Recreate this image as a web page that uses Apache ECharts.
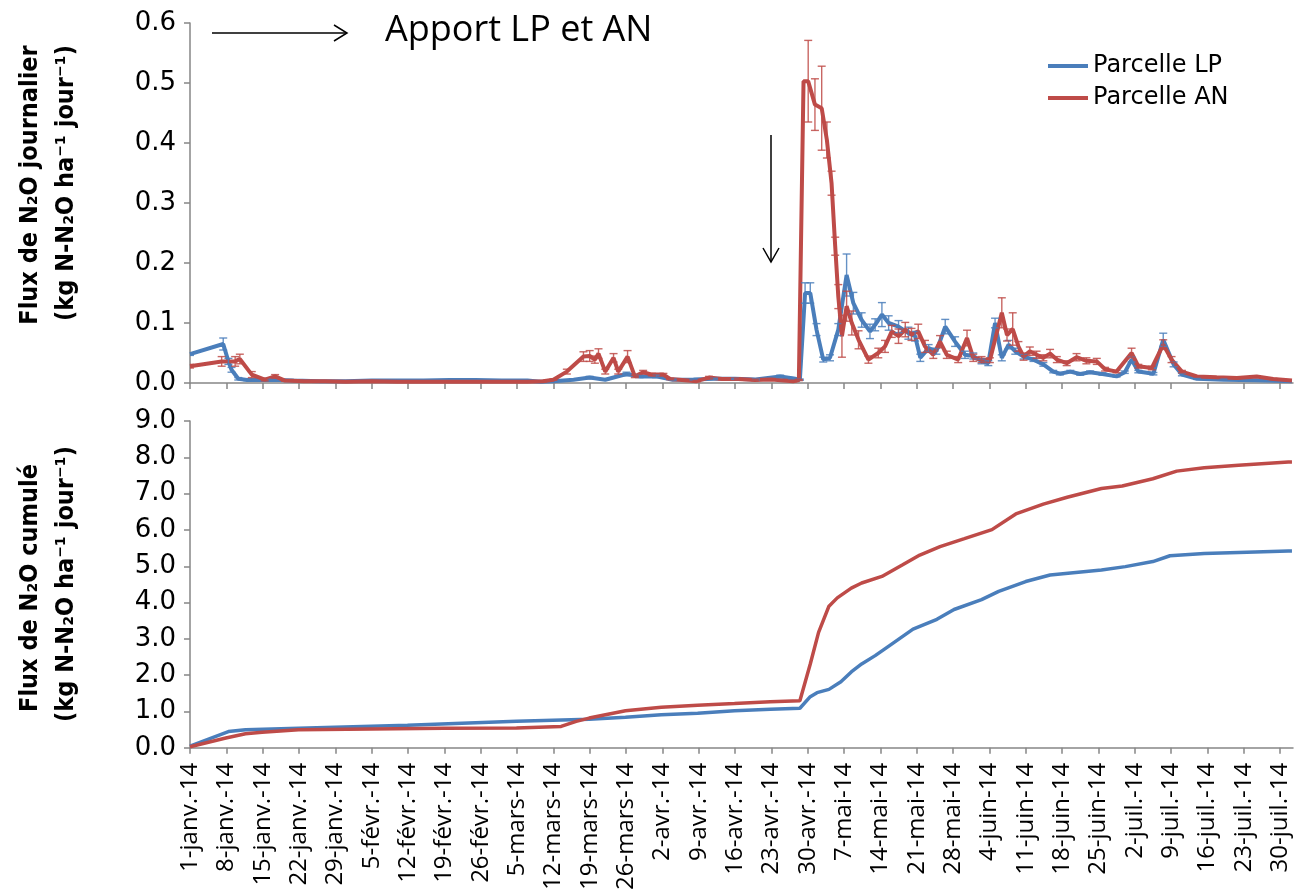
<!DOCTYPE html>
<html><head><meta charset="utf-8">
<script src="https://cdn.jsdelivr.net/npm/echarts@6/dist/echarts.min.js"></script>
<style>html,body{margin:0;padding:0;background:#fff}#c{width:1297px;height:893px}</style>
</head><body><div id="c"></div>
<script>
// ---- tick labels (every 7 days from 1 Jan 2014) ----
const tickLabels = ['1-janv.-14','8-janv.-14','15-janv.-14','22-janv.-14','29-janv.-14','5-févr.-14','12-févr.-14','19-févr.-14','26-févr.-14','5-mars-14','12-mars-14','19-mars-14','26-mars-14','2-avr.-14','9-avr.-14','16-avr.-14','23-avr.-14','30-avr.-14','7-mai-14','14-mai-14','21-mai-14','28-mai-14','4-juin-14','11-juin-14','18-juin-14','25-juin-14','2-juil.-14','9-juil.-14','16-juil.-14','23-juil.-14','30-juil.-14'];

// ---- daily flux, Parcelle LP (day since 1 Jan, kg N-N2O/ha/day, std error) ----
const lpDays = [0,6.4,7.4,8,9.3,11,15.7,20,25,30,35,40,45,50,55,60,65,67.5,70,73.9,77,80,84.1,86.6,89.8,93,97,101,105,109,113.7,116,117.5,118.5,119.5,120.7,122,123.3,124.9,126.5,127.8,129.4,131,132,133.3,134.6,136.5,138.4,139.7,140.7,142.3,143.8,145.5,147.4,149.3,150.9,152.5,153.8,155.1,156.4,157.7,159,160.6,162.5,164.4,166.3,167.6,169.6,171.5,173.4,175.8,178.5,180.1,181.4,182.7,185.6,187.5,189.5,191.1,194,199.1,205.5,212.3];
const lpFlux = [0.048,0.065,0.036,0.022,0.007,0.005,0.0055,0.004,0.003,0.003,0.004,0.004,0.004,0.005,0.005,0.004,0.004,0.002,0.003,0.0055,0.009,0.0055,0.015,0.011,0.011,0.0055,0.006,0.007,0.007,0.006,0.011,0.008,0.0055,0.15,0.15,0.089,0.039,0.042,0.089,0.18,0.133,0.105,0.086,0.097,0.114,0.1,0.094,0.083,0.078,0.042,0.058,0.053,0.094,0.069,0.047,0.045,0.036,0.033,0.1,0.042,0.064,0.053,0.044,0.039,0.031,0.019,0.0155,0.019,0.015,0.018,0.015,0.011,0.018,0.039,0.019,0.0155,0.072,0.031,0.014,0.007,0.0055,0.0044,0.003];
const lpErr = [0.002,0.01,0.005,0.004,0.002,0.001,0.001,0,0,0,0,0,0,0,0,0,0,0,0,0.001,0.002,0.001,0.003,0.002,0.002,0.001,0.001,0.001,0.001,0.001,0.002,0.001,0.001,0.017,0.017,0.01,0.004,0.005,0.01,0.035,0.018,0.012,0.012,0.01,0.02,0.012,0.01,0.01,0.008,0.006,0.006,0.005,0.012,0.008,0.006,0.005,0.004,0.004,0.008,0.005,0.007,0.005,0.004,0.003,0.003,0.002,0.002,0.002,0.002,0.002,0.002,0.001,0.002,0.004,0.002,0.002,0.011,0.004,0.002,0.001,0.001,0,0];

// ---- daily flux, Parcelle AN ----
const anDays = [0,6.1,8.7,9.6,11.9,14.4,16.4,18.3,22,26,30,35,40,45,50,55,60,65,68,70,72.6,75.8,77,78,78.7,80,81.6,82.5,84.3,85.7,87.3,89,91.2,92.5,97.6,100,102.5,105.6,108.8,112,116.2,117.3,118.2,119.1,120.4,121.7,122.7,123.6,124.3,124.9,125.6,126.5,127.5,128.8,130.7,132.6,133.9,135.2,136.5,137.8,139,140.3,141.6,143.2,144.5,145.8,148,149.7,150.9,152.5,154.1,156.4,157.4,158.5,159.6,160.6,161.8,163.1,164.4,165.7,167,168.9,170.8,172.7,174.7,176.3,178.5,181.4,182.7,185.3,187.5,189.1,191.1,194,197.8,201.7,205.5,208.7,212.3];
const anFlux = [0.028,0.036,0.036,0.04,0.014,0.0055,0.011,0.004,0.003,0.003,0.002,0.003,0.002,0.002,0.002,0.002,0.002,0.002,0.003,0.0055,0.019,0.044,0.045,0.039,0.049,0.019,0.042,0.019,0.044,0.011,0.018,0.014,0.014,0.0066,0.003,0.009,0.0065,0.0065,0.005,0.006,0.003,0.005,0.503,0.503,0.464,0.458,0.405,0.333,0.228,0.144,0.078,0.128,0.1,0.072,0.039,0.05,0.061,0.086,0.078,0.089,0.081,0.086,0.061,0.047,0.069,0.047,0.039,0.075,0.042,0.039,0.038,0.117,0.08,0.09,0.061,0.044,0.053,0.047,0.042,0.049,0.039,0.033,0.043,0.037,0.036,0.023,0.019,0.05,0.028,0.025,0.064,0.039,0.019,0.011,0.0094,0.0083,0.011,0.0066,0.004];
const anErr = [0.003,0.008,0.008,0.008,0.005,0.002,0.003,0.001,0,0,0,0,0,0,0,0,0,0,0.001,0.001,0.004,0.008,0.009,0.006,0.008,0.004,0.007,0.004,0.01,0.002,0.003,0.002,0.002,0.001,0.001,0.002,0.001,0.001,0.001,0.001,0.001,0.001,0,0.068,0.043,0.07,0.03,0.02,0.015,0.02,0.035,0.025,0.02,0.015,0.006,0.008,0.01,0.01,0.012,0.012,0.01,0.012,0.01,0.006,0.01,0.006,0.005,0.013,0.006,0.005,0.004,0.025,0.01,0.027,0.008,0.006,0.007,0.006,0.005,0.007,0.005,0.004,0.006,0.005,0.005,0.003,0.002,0.008,0.003,0.003,0.008,0.005,0.002,0.001,0.001,0.001,0.001,0.001,0];

// ---- cumulative flux ----
const lpCumDays = [0,7.4,10.7,20.9,41.9,62.9,76.9,83.9,90.8,97.8,104.9,111.8,117.5,119.5,120.8,123.1,125.4,127.4,129.4,132,134.7,139.3,143.9,147.2,152.5,155.8,161,165.7,175.6,180.2,185.5,188.8,195.4,202,211.6,212.3];
const lpCum = [0.05,0.45,0.5,0.54,0.62,0.73,0.79,0.84,0.91,0.95,1.02,1.06,1.09,1.41,1.52,1.61,1.82,2.09,2.31,2.54,2.81,3.27,3.54,3.81,4.08,4.31,4.58,4.76,4.9,4.99,5.13,5.29,5.35,5.38,5.42,5.42];
const anCumDays = [0,6.9,10.7,13.9,20.9,34.9,48.9,62.9,71.5,74.4,76.9,81,83.9,90.8,97.8,104.9,111.8,117.5,119.5,121.1,123.1,124.7,127.4,129.4,133.3,137.3,140.6,144.5,149.2,154.5,159.1,164.4,169,175.6,179.6,185.5,190.1,195.4,202,211.6,212.3];
const anCum = [0.03,0.27,0.39,0.43,0.5,0.52,0.54,0.55,0.59,0.73,0.82,0.94,1.02,1.12,1.17,1.22,1.27,1.3,2.31,3.18,3.9,4.13,4.4,4.54,4.72,5.04,5.31,5.54,5.76,6.01,6.44,6.71,6.9,7.14,7.21,7.41,7.62,7.71,7.78,7.87,7.87];

const COL_LP = '#4a7ebb', COL_AN = '#be4b48', AXIS = '#868686';
const tickDays = tickLabels.map((_, i) => i * 7);
const zip = (xs, ys) => xs.map((x, i) => [x, ys[i]]);
const zip3 = (xs, ys, es) => xs.map((x, i) => [x, ys[i], es[i]]).filter(d => d[2] > 0);

function errBars(name, xs, ys, es, color) {
  return {
    type: 'custom', name, xAxisIndex: 0, yAxisIndex: 0, z: 4, clip: true,
    dimensions: ['x', 'y', 'e'], encode: { x: 0, y: 1 },
    data: zip3(xs, ys, es),
    renderItem(params, api) {
      const x = api.value(0), y = api.value(1), e = api.value(2);
      const t = api.coord([x, y + e]), b = api.coord([x, Math.max(0, y - e)]);
      const hw = 4;
      const st = { stroke: color, lineWidth: 1.4, opacity: 0.85 };
      return { type: 'group', children: [
        { type: 'line', shape: { x1: t[0], y1: t[1], x2: b[0], y2: b[1] }, style: st },
        { type: 'line', shape: { x1: t[0] - hw, y1: t[1], x2: t[0] + hw, y2: t[1] }, style: st },
        { type: 'line', shape: { x1: b[0] - hw, y1: b[1], x2: b[0] + hw, y2: b[1] }, style: st }
      ]};
    }
  };
}

const axisLineStyle = { color: AXIS, width: 1.5 };
function xAxisCfg(gi, showLabels) {
  return {
    type: 'value', gridIndex: gi, min: 0, max: 212.5,
    axisLine: { lineStyle: axisLineStyle },
    axisTick: { show: true, customValues: tickDays, length: 6, lineStyle: axisLineStyle },
    splitLine: { show: false },
    axisLabel: showLabels ? {
      customValues: tickDays, rotate: 90, margin: 15,
      fontFamily: 'Open Sans', fontSize: 24, color: '#000',
      formatter: v => tickLabels[Math.round(v / 7)] || ''
    } : { show: false }
  };
}
function yAxisCfg(gi, max, interval) {
  return {
    type: 'value', gridIndex: gi, min: 0, max, interval,
    axisLine: { show: true, lineStyle: axisLineStyle },
    axisTick: { show: true, length: 6, lineStyle: axisLineStyle },
    splitLine: { show: false },
    axisLabel: { margin: 14, fontFamily: 'DejaVu Sans', fontSize: 26, color: '#000', formatter: v => v.toFixed(1) }
  };
}

const titleFont = 'bold 25px "DejaVu Sans Condensed", "DejaVu Sans", sans-serif';
function vText(text, x, y) {
  return { type: 'text', x, y, rotation: Math.PI / 2, z: 10,
    style: { text, x: 0, y: 0, align: 'center', verticalAlign: 'middle', font: titleFont, fill: '#000' } };
}

const chart = echarts.init(document.getElementById('c'), null, { renderer: 'canvas' });
chart.setOption({
  animation: false,
  backgroundColor: '#fff',
  grid: [
    { left: 190, right: 4, top: 23, height: 360 },
    { left: 190, right: 4, top: 421, height: 331 }
  ],
  xAxis: [xAxisCfg(0, false), xAxisCfg(1, true)],
  yAxis: [yAxisCfg(0, 0.6, 0.1), yAxisCfg(1, 9, 1)],
  legend: {
    data: ['Parcelle LP', 'Parcelle AN'], orient: 'vertical', left: 1043, top: 49,
    icon: 'rect', itemWidth: 40, itemHeight: 4, itemGap: 8,
    textStyle: { fontFamily: 'DejaVu Sans', fontSize: 24, color: '#000' }
  },
  series: [
    { type: 'line', name: 'Parcelle LP', xAxisIndex: 0, yAxisIndex: 0, data: zip(lpDays, lpFlux),
      showSymbol: false, color: COL_LP, lineStyle: { width: 4, color: COL_LP }, z: 2 },
    { type: 'line', name: 'Parcelle AN', xAxisIndex: 0, yAxisIndex: 0, data: zip(anDays, anFlux),
      showSymbol: false, color: COL_AN, lineStyle: { width: 4, color: COL_AN }, z: 3 },
    errBars('err LP', lpDays, lpFlux, lpErr, COL_LP),
    errBars('err AN', anDays, anFlux, anErr, COL_AN),
    { type: 'line', name: 'Parcelle LP', xAxisIndex: 1, yAxisIndex: 1, data: zip(lpCumDays, lpCum),
      showSymbol: false, color: COL_LP, lineStyle: { width: 3.5, color: COL_LP }, z: 2 },
    { type: 'line', name: 'Parcelle AN', xAxisIndex: 1, yAxisIndex: 1, data: zip(anCumDays, anCum),
      showSymbol: false, color: COL_AN, lineStyle: { width: 3.5, color: COL_AN }, z: 3 }
  ],
  graphic: [
    { type: 'text', x: 385, y: 31, z: 10,
      style: { text: 'Apport LP et AN', x: 0, y: 0, align: 'left', verticalAlign: 'middle',
        font: '36px "Open Sans", sans-serif', fill: '#000' } },
    { type: 'polyline', z: 10, shape: { points: [[212, 33], [347, 33]] }, style: { stroke: '#000', lineWidth: 1.5, fill: null } },
    { type: 'polyline', z: 10, shape: { points: [[334, 25], [347, 33], [334, 41]] }, style: { stroke: '#000', lineWidth: 1.5, fill: null } },
    { type: 'polyline', z: 10, shape: { points: [[771, 135], [771, 262]] }, style: { stroke: '#000', lineWidth: 1.5, fill: null } },
    { type: 'polyline', z: 10, shape: { points: [[763, 248], [771, 262], [779, 248]] }, style: { stroke: '#000', lineWidth: 1.5, fill: null } },
    vText('Flux de N\u2082O journalier', 30, 185),
    vText('(kg N-N\u2082O ha\u207B\u00B9 jour\u207B\u00B9)', 66, 183),
    vText('Flux de N\u2082O cumulé', 30, 588),
    vText('(kg N-N\u2082O ha\u207B\u00B9 jour\u207B\u00B9)', 66, 584)
  ]
});
</script>
</body></html>
